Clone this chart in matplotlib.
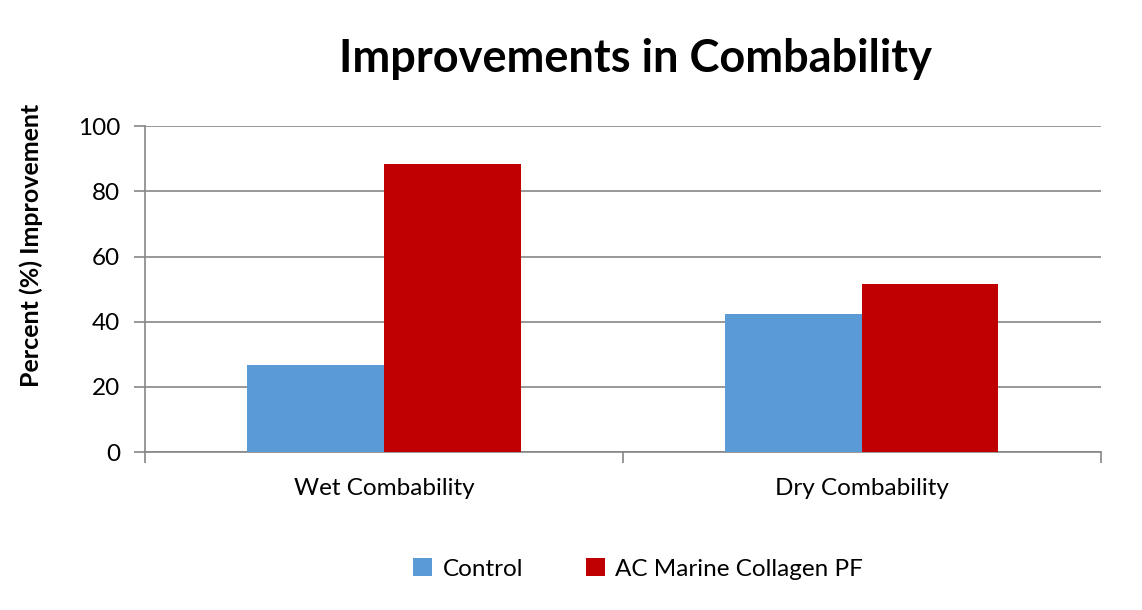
import numpy as np
import matplotlib.pyplot as plt

# Data
categories = ["Wet Combability", "Dry Combability"]
control = [26.8, 42.5]
collagen = [88.4, 51.5]
series_names = ["Control", "AC Marine Collagen PF"]
colors = ["#5B9BD5", "#C00000"]

plt.rcParams['font.family'] = ['Lato', 'DejaVu Sans']

fig = plt.figure(figsize=(11.42, 6.1), dpi=100)
ax = fig.add_axes([0.127, 0.259, 0.837, 0.534])

x = np.arange(len(categories))
w = 1 / 3.5  # Excel-style 150% gap width
ax.bar(x - w / 2, control, w, color=colors[0], label=series_names[0], zorder=3)
ax.bar(x + w / 2, collagen, w, color=colors[1], label=series_names[1], zorder=3)

ax.set_xlim(-0.5, len(categories) - 0.5)
ax.set_ylim(0, 100)
ax.set_yticks(range(0, 101, 20))
ax.yaxis.grid(True, color="#868686", linewidth=1.2, zorder=0)

# category labels between boundary ticks
ax.set_xticks(np.arange(-0.5, len(categories), 1))
ax.set_xticklabels([])
ax.set_xticks(x, minor=True)
ax.set_xticklabels(categories, minor=True, fontsize=17.5)
ax.tick_params(axis="x", which="minor", length=0, pad=19)
ax.tick_params(axis="x", which="major", length=8, color="#868686", width=1.2)
ax.tick_params(axis="y", length=8, color="#868686", width=1.2, labelsize=17.5, pad=10)

for s in ["top", "right"]:
    ax.spines[s].set_visible(False)
for s in ["left", "bottom"]:
    ax.spines[s].set_color("#868686")
    ax.spines[s].set_linewidth(1.2)

fig.text(0.556, 0.903, "Improvements in Combability", ha="center", va="center",
         fontsize=32.5, fontweight="bold")
fig.text(0.027, 0.598, "Percent (%) Improvement", ha="center", va="center",
         rotation=90, fontsize=18, fontweight="bold")

fig.legend(loc="center", bbox_to_anchor=(0.559, 0.067), ncol=2, frameon=False,
           fontsize=17.5, handlelength=0.75, handleheight=0.75, columnspacing=2.6,
           handletextpad=0.45)

plt.savefig("out.png", dpi=100)
